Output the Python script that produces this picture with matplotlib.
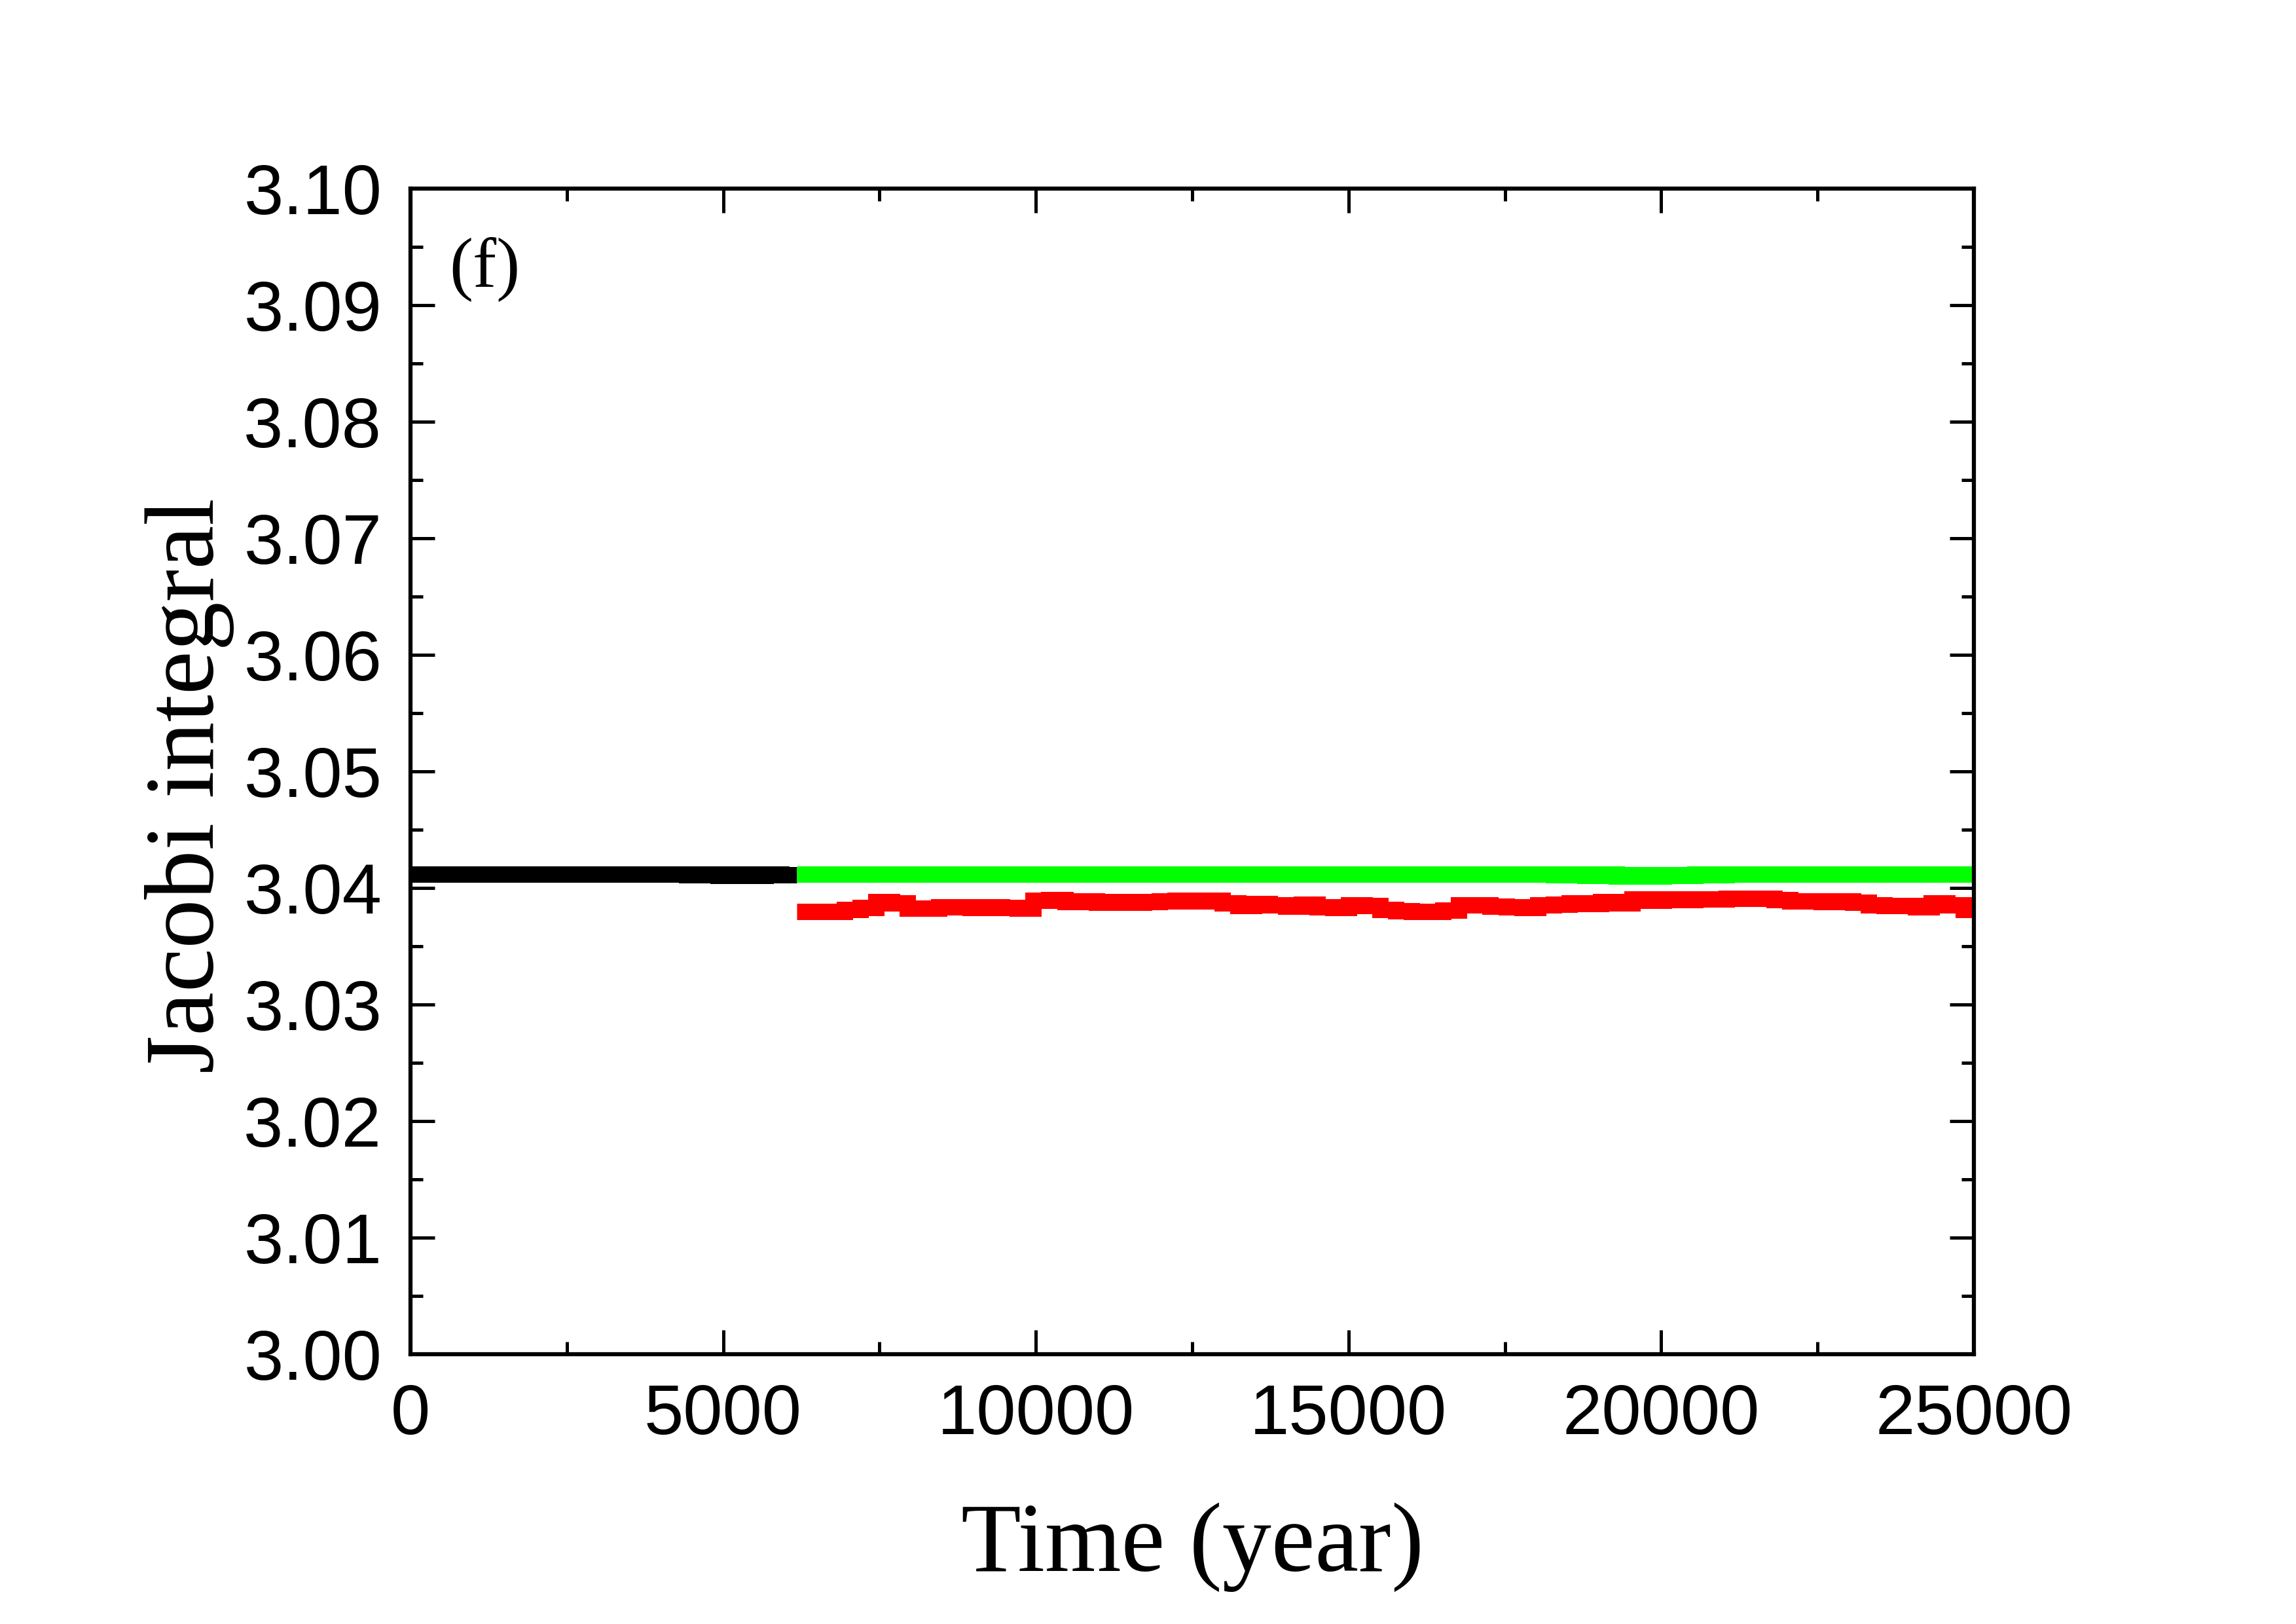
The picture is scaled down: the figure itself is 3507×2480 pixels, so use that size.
import matplotlib
matplotlib.use("Agg")
import matplotlib.pyplot as plt
import numpy as np
from matplotlib.ticker import MultipleLocator, FormatStrFormatter

# data, one value per ~252 year output step
step = 252
t_switch = 6180

black_t = [0, 4416, 4668, 4920, 5172, 5424, 5676, 5928, 6180]
black_c = [3.04116, 3.04110, 3.04116, 3.04105, 3.04116, 3.04105, 3.04116, 3.04110, 3.04110]

green_c = ([3.04116] * 48
           + [3.04110, 3.04116, 3.04105, 3.04116, 3.04099, 3.04110,
              3.04099, 3.04110, 3.04105, 3.04116, 3.04110]
           + [3.04116] * 16)

red_c = [3.03796, 3.03796, 3.03796, 3.03813, 3.03830, 3.03880, 3.03869, 3.03824,
         3.03824, 3.03835, 3.03835, 3.03830, 3.03835, 3.03830, 3.03824, 3.03891,
         3.03897, 3.03880, 3.03886, 3.03875, 3.03880, 3.03875, 3.03880, 3.03886,
         3.03891, 3.03886, 3.03891, 3.03869, 3.03846, 3.03863, 3.03852, 3.03841,
         3.03858, 3.03835, 3.03830, 3.03852, 3.03846, 3.03813, 3.03802, 3.03796,
         3.03796, 3.03807, 3.03852, 3.03852, 3.03841, 3.03835, 3.03830, 3.03852,
         3.03858, 3.03869, 3.03863, 3.03880, 3.03869, 3.03903, 3.03891, 3.03903,
         3.03897, 3.03903, 3.03903, 3.03908, 3.03908, 3.03908, 3.03897, 3.03886,
         3.03886, 3.03880, 3.03886, 3.03875, 3.03852, 3.03846, 3.03846, 3.03835,
         3.03869, 3.03852, 3.03813]

xticks = [0, 5000, 10000, 15000, 20000, 25000]
yticks = [3.00, 3.01, 3.02, 3.03, 3.04, 3.05, 3.06, 3.07, 3.08, 3.09, 3.10]

t_after = list(t_switch + step * np.arange(len(red_c))) + [25000]
red_y = red_c + [red_c[-1]]
green_y = green_c + [green_c[-1]]

fig = plt.figure(figsize=(3507 / 300, 2480 / 300), dpi=300)
ax = fig.add_axes([0.1788, 0.1661, 0.6809, 0.7178])

lw = 6
ax.plot(black_t, black_c, color="black", lw=lw, drawstyle="steps-post",
        solid_capstyle="butt", solid_joinstyle="miter")
ax.plot(t_after, green_y, color="#00ff00", lw=lw, drawstyle="steps-post",
        solid_capstyle="butt", solid_joinstyle="miter")
ax.plot(t_after, red_y, color="#ff0000", lw=lw, drawstyle="steps-post",
        solid_capstyle="butt", solid_joinstyle="miter")

ax.set_xlim(0, 25000)
ax.set_ylim(3.00, 3.10)
ax.set_xticks(xticks)
ax.set_yticks(yticks)
ax.xaxis.set_minor_locator(MultipleLocator(2500))
ax.yaxis.set_minor_locator(MultipleLocator(0.005))
ax.yaxis.set_major_formatter(FormatStrFormatter("%.2f"))

for s in ax.spines.values():
    s.set_linewidth(1.5)
ax.tick_params(which="both", direction="in", top=True, right=True, width=1.2)
ax.tick_params(which="major", length=8.9, pad=10.5)
ax.tick_params(which="minor", length=4.6)
for lab in ax.get_xticklabels() + ax.get_yticklabels():
    lab.set_fontfamily("Liberation Sans")
    lab.set_fontsize(26)

ax.set_xlabel("Time (year)", family="Liberation Serif", fontsize=36)
ax.xaxis.label.set_va("baseline")
ax.xaxis.set_label_coords(0.5, -0.186)
ax.set_ylabel("Jacobi integral", family="Liberation Serif", fontsize=36)
ax.yaxis.label.set_va("baseline")
ax.yaxis.set_label_coords(-0.126, 0.4876)

ax.text(0.0247, 0.916, "(f)", transform=ax.transAxes, family="Liberation Serif",
        fontsize=26, va="baseline", ha="left")

fig.savefig("out.png", dpi=300)
